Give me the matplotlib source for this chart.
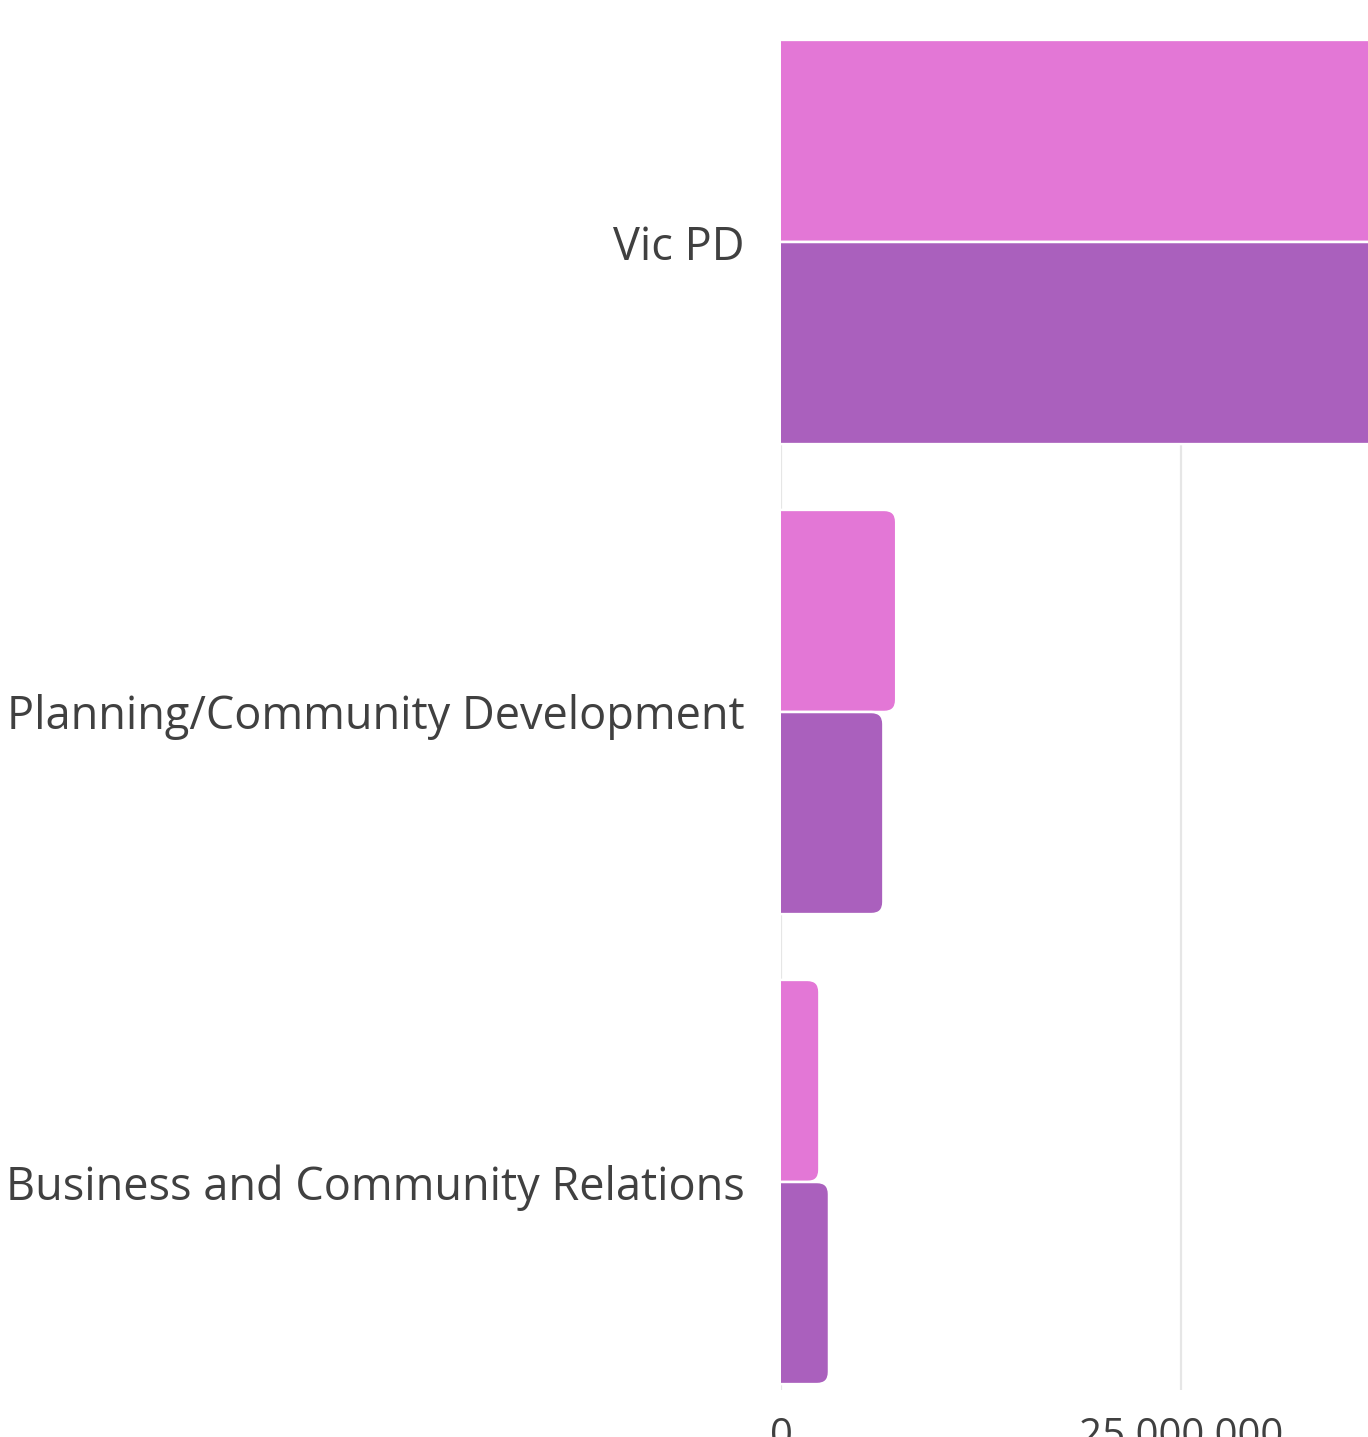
import matplotlib
matplotlib.use("Agg")
import matplotlib.pyplot as plt
from matplotlib.patches import FancyBboxPatch
from matplotlib.ticker import FuncFormatter
import numpy as np

plt.rcParams['font.family'] = ['Open Sans', 'DejaVu Sans']

# data (Vic PD runs off the right edge of the crop)
departments = ["Vic PD", "Planning/Community Development", "Business and Community Relations"]
budget_a = [62000000, 7200000, 2400000]   # pink series
budget_b = [59000000, 6400000, 3000000]   # purple series
x_ticks = [0, 25000000]

pink = "#e377d6"
purple = "#aa60bd"

W, H = 1368, 1437
top_px, bot_px = 40, 1390
fig = plt.figure(figsize=(W / 100, H / 100), dpi=100)
# plot area: left edge at x=781px, runs past the right edge of the picture
ax = fig.add_axes([781 / W, (H - bot_px) / H, (W - 781) / W, (bot_px - top_px) / H])

y = np.arange(len(departments))
h = 0.43
xmax = (W - 781) / 400 * 25000000
ax.set_xlim(0, xmax)
ax.set_ylim(2 + (bot_px - 1182) / 470, -(242 - top_px) / 470)

bars_a = ax.barh(y - h / 2, budget_a, height=h, color=pink)
bars_b = ax.barh(y + h / 2, budget_b, height=h, color=purple)

# swap plain rects for ones rounded on the right (radius ~12 px)
ax_w_px = W - 781
ax_h_px = bot_px - top_px
rx = 12 * xmax / ax_w_px
ry = 12 * (ax.get_ylim()[0] - ax.get_ylim()[1]) / ax_h_px
for bars, col in [(bars_a, pink), (bars_b, purple)]:
    for r in bars:
        x0, y0, w, hh = r.get_x(), r.get_y(), r.get_width(), r.get_height()
        p = FancyBboxPatch((x0 - 2 * rx, y0), w + 2 * rx, hh,
                           boxstyle=f"round,pad=0,rounding_size={rx}",
                           mutation_aspect=ry / rx,
                           facecolor=col, edgecolor="white", linewidth=1.8, zorder=3)
        ax.add_patch(p)
        r.remove()

ax.set_yticks(y)
ax.set_yticklabels(departments, fontsize=32.5, color="#404040")
ax.set_xticks(x_ticks)
ax.xaxis.set_major_formatter(FuncFormatter(lambda v, pos: f"{int(v):,}"))
ax.tick_params(axis='x', labelsize=29, labelcolor="#404040", length=0, pad=19)
ax.tick_params(axis='y', length=0, pad=26)

ax.grid(axis='x', color="#e6e6e6", linewidth=1.6)
ax.set_axisbelow(True)
for s in ax.spines.values():
    s.set_visible(False)

fig.savefig("out.png", dpi=100)
